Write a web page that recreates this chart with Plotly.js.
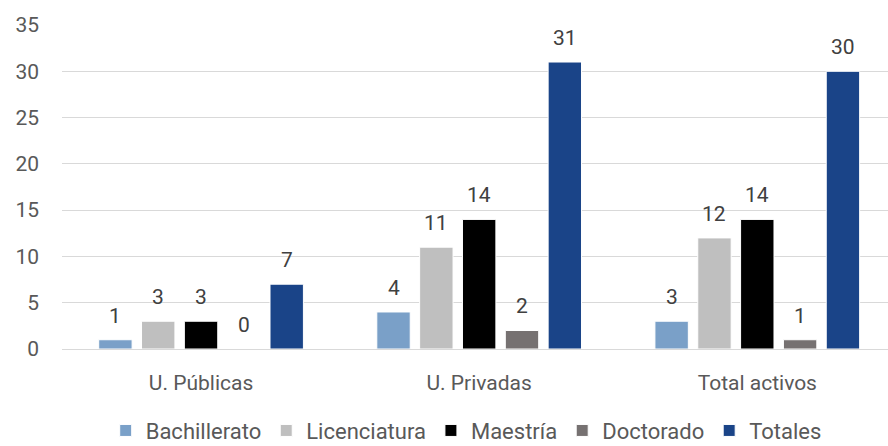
<!DOCTYPE html>
<html>
<head>
<meta charset="utf-8">
<script src="https://cdn.plot.ly/plotly-3.0.1.min.js"></script>
<style>html,body{margin:0;padding:0;background:#fff}#chart{width:888px;height:446px}</style>
</head>
<body>
<div id="chart"></div>
<script>
const categories = ["U. Públicas", "U. Privadas", "Total activos"];
const seriesNames = ["Bachillerato", "Licenciatura", "Maestría", "Doctorado", "Totales"];
const bachillerato = [1, 4, 3];
const licenciatura = [3, 11, 12];
const maestria = [3, 14, 14];
const doctorado = [0, 2, 1];
const totales = [7, 31, 30];
const colors = ["#7aa0c8", "#bfbfbf", "#000000", "#767171", "#1a4488"];
const seriesValues = [bachillerato, licenciatura, maestria, doctorado, totales];

const bargap = 0.23;
const nSeries = seriesValues.length;
const slot = (1 - bargap) / nSeries;

const traces = seriesValues.map((vals, i) => ({
  type: "bar",
  name: seriesNames[i],
  x: categories.map((c, k) => k),
  y: vals,
  marker: {color: colors[i], line: {color: "#ffffff", width: 1}},
  hoverinfo: "skip"
}));

const annotations = [];
seriesValues.forEach((vals, i) => {
  vals.forEach((v, k) => {
    annotations.push({
      x: k + (i - (nSeries - 1) / 2) * slot,
      y: v, xref: "x", yref: "y",
      text: String(v), showarrow: false,
      yanchor: "bottom", yshift: 10,
      font: {family: "Roboto, sans-serif", size: 21, color: "#404040"}
    });
  });
});

const layout = {
  width: 888, height: 446,
  margin: {l: 62, r: 0, t: 25, b: 96.5, autoexpand: false},
  paper_bgcolor: "#fff", plot_bgcolor: "#fff",
  font: {family: "Roboto, sans-serif", size: 20, color: "#595959"},
  barmode: "group",
  bargap: bargap,
  bargroupgap: 0.22,
  showlegend: true,
  annotations: annotations,
  legend: {orientation: "h", x: 0.525, xanchor: "center", xref: "container",
           y: -0.252, yanchor: "middle", yref: "paper",
           font: {size: 22, color: "#595959"}, itemwidth: 30, tracegroupgap: 0},
  xaxis: {range: [-0.5, 2.47], tickvals: [0, 1, 2], ticktext: categories,
          showgrid: false, zeroline: false, showline: false, ticks: "",
          ticklabelstandoff: 19, tickfont: {size: 21, color: "#595959"}},
  yaxis: {range: [0, 35], dtick: 5, showgrid: true, gridcolor: "#d9d9d9", gridwidth: 1,
          zeroline: true, zerolinecolor: "#d9d9d9", zerolinewidth: 1, showline: false,
          ticks: "", ticklabelstandoff: 22, tickfont: {size: 21, color: "#595959"}}
};

Plotly.newPlot("chart", traces, layout, {displayModeBar: false, staticPlot: true});
</script>
</body>
</html>
